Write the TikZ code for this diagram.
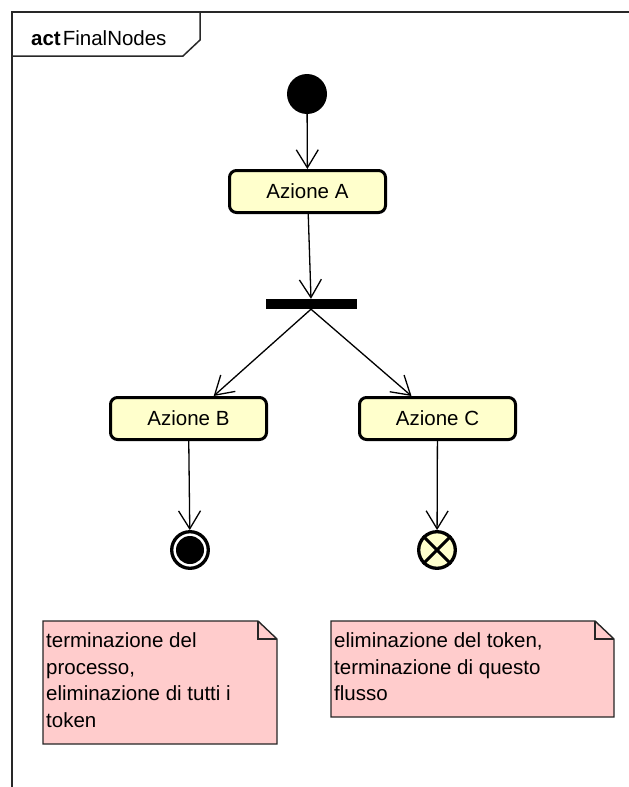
\documentclass[tikz,border=0pt]{standalone}
\usepackage{fontspec}
\setmainfont{Liberation Sans}
\usetikzlibrary{arrows.meta}

\definecolor{actfill}{RGB}{255,255,204}
\definecolor{notefill}{RGB}{255,204,204}
\definecolor{framecol}{RGB}{40,40,40}

\tikzset{
  labelfont/.style={font=\fontsize{20.5}{26.5}\selectfont},
  action/.style={rectangle, rounded corners=7pt, draw=black, line width=3pt,
    fill=actfill, minimum width=156pt, minimum height=42pt, inner sep=0pt,
    labelfont},
  initnode/.style={circle, fill=black, minimum size=40pt, inner sep=0pt},
  forkbar/.style={rectangle, fill=black, minimum width=91pt, minimum height=10pt,
    inner sep=0pt},
  finalnode/.style={circle, draw=black, line width=3.3pt, fill=white,
    minimum size=36.6pt, inner sep=0pt},
  flowfinal/.style={circle, draw=black, line width=3.3pt, fill=actfill,
    minimum size=36.6pt, inner sep=0pt},
  flow/.style={draw=black, line width=1.3pt,
    -{Straight Barb[length=18pt, width=22pt]}},
  noteshape/.style={draw=black!85, line width=1.4pt, fill=notefill, line join=miter},
  notetext/.style={labelfont, anchor=north west, align=left, inner sep=0pt},
  frameline/.style={draw=framecol, line width=1.5pt},
}

\begin{document}
\begin{tikzpicture}[x=1pt, y=-1pt]
  \useasboundingbox (0,0) rectangle (629,787);

  % diagram frame with its name tab
  \draw[frameline] (12,787) -- (12,12) -- (629,12);
  \draw[frameline] (12,56) -- (183,56) -- (200,40) -- (200,12);
  \node[labelfont, anchor=base west, inner sep=0pt] (title) at (31,45)
    {\textbf{act}\hspace{2pt}FinalNodes};

  % activity nodes
  \node[initnode] (init) at (307,94) {};
  \node[action] (A) at (307.5,191.5) {Azione A};
  \node[forkbar] (bar) at (311,304) {};
  \node[action] (B) at (188.5,418.5) {Azione B};
  \node[action] (C) at (437.5,418.5) {Azione C};
  \node[finalnode] (endB) at (190,550) {};
  \fill[black] (endB.center) circle [radius=14];
  \node[flowfinal] (endC) at (437,550) {};
  \draw[line width=3pt] (endC.45) -- (endC.225);
  \draw[line width=3pt] (endC.135) -- (endC.315);

  % control flows
  \draw[flow] (init) -- (A);
  \draw[flow] (A) -- (bar.north);
  \draw[flow] (bar.south) -- (B);
  \draw[flow] (bar.south) -- (C);
  \draw[flow] (B) -- (endB);
  \draw[flow] (C) -- (endC);

  % comment notes
  \draw[noteshape] (43,621) -- (258,621) -- (277,639) -- (277,744) -- (43,744) -- cycle;
  \draw[noteshape, fill=none] (258,621) -- (258,639) -- (277,639);
  \node[notetext] (note1) at (46,632.5)
    {terminazione del\\processo,\\eliminazione di tutti i\\token};

  \draw[noteshape] (331,621) -- (595,621) -- (614,639) -- (614,717) -- (331,717) -- cycle;
  \draw[noteshape, fill=none] (595,621) -- (595,639) -- (614,639);
  \node[notetext] (note2) at (334,632.5)
    {eliminazione del token,\\terminazione di questo\\flusso};
\end{tikzpicture}
\end{document}
